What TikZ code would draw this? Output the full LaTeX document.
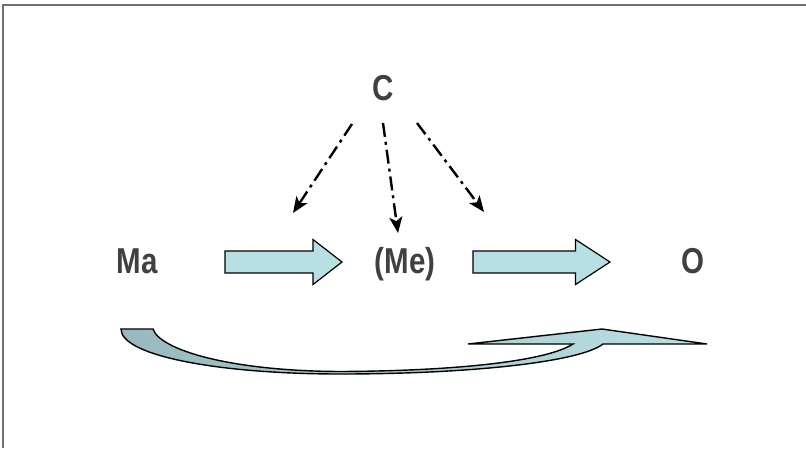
\documentclass[tikz,border=0pt]{standalone}
\usepackage{fontspec}
\setmainfont{Liberation Sans}
\newfontfamily\narrowfont[FakeStretch=0.82]{Liberation Sans}
\usetikzlibrary{arrows.meta}
\definecolor{txt}{HTML}{404040}
\definecolor{afill}{HTML}{B8E0E4}
\definecolor{adark}{HTML}{98B9BD}
\definecolor{framec}{HTML}{707070}
\begin{document}
\begin{tikzpicture}[x=1pt,y=-1pt,
  lbl/.style={text=txt,font=\narrowfont\bfseries\fontsize{36}{36}\selectfont,inner sep=0pt,anchor=base},
  blockarrow/.style={draw=black,line width=1.2pt,fill=afill,line join=miter},
  dd/.style={draw=black,line width=2.4pt,dash pattern=on 14pt off 5pt on 3pt off 5pt,-{Stealth[length=16pt,width=13pt,inset=4pt]}}]
\useasboundingbox (0,0) rectangle (806,448);
\fill[white] (0,0) rectangle (806,448);
\draw[framec,line width=1.5pt] (3,448) -- (3,5) -- (806,5);

% labels
\node[lbl] (ma) at (137.5,273.5) {Ma};
\node[lbl] (me) at (405,273.5) {(Me)};
\node[lbl] (o)  at (693,273.5) {O};
\node[lbl] (c)  at (383,100) {C};

% dash-dot connectors
\coordinate (c1) at (352,124);
\coordinate (c2) at (383,123);
\coordinate (c3) at (417,123);
\coordinate (t1) at (293,213);
\coordinate (t2) at (398,233);
\coordinate (t3) at (484,212);
\draw[dd] (c1) -- (t1);
\draw[dd] (c2) -- (t2);
\draw[dd] (c3) -- (t3);

% block arrows
\path[blockarrow] (225,251) -- (313,251) -- (313,239.5) -- (342,262) -- (313,284.5) -- (313,273) -- (225,273) -- cycle;
\path[blockarrow] (473,251) -- (575.5,251) -- (575.5,239.5) -- (610,262) -- (575.5,284.5) -- (575.5,273) -- (473,273) -- cycle;

% curved arrow
\path[draw=black,line width=1.4pt,line join=miter,left color=adark,right color=afill]
  (121,329) .. controls (121,356) and (220,374) .. (340,374)
  .. controls (470,374) and (580,362) .. (603,344)
  -- (707,344) -- (602,329) -- (468,344) -- (573,344)
  .. controls (545,362) and (450,371) .. (340,371.5)
  .. controls (230,371) and (160,350) .. (153,329) -- cycle;
\end{tikzpicture}
\end{document}
